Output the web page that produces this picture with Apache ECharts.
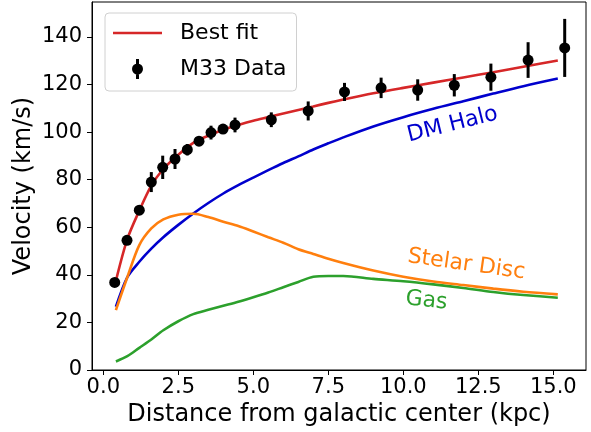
<!DOCTYPE html>
<html>
<head>
<meta charset="utf-8">
<script src="https://cdn.jsdelivr.net/npm/echarts@6/dist/echarts.min.js"></script>
<style>
  html, body { margin: 0; padding: 0; background: #fff; }
  #main { width: 591px; height: 432px; }
</style>
</head>
<body>
<div id="main"></div>
<script>
// M33 rotation curve data
var dataR   = [0.38, 0.79, 1.2, 1.6, 1.98, 2.39, 2.8, 3.19, 3.59, 3.99, 4.39, 5.6, 6.83, 8.04, 9.26, 10.48, 11.7, 12.92, 14.16, 15.38];
var dataV   = [36.8, 54.5, 67.2, 79, 85.2, 88.7, 92.6, 96.2, 99.8, 101.3, 103, 105.2, 108.9, 116.9, 118.6, 117.7, 119.7, 123.1, 130.3, 135.4];
var dataErr = [1, 1, 2, 4.2, 4.9, 4.2, 2.4, 1.8, 2.9, 1.7, 3.1, 3.1, 4, 3.8, 4.3, 4.5, 4.7, 5.7, 7.5, 12.2];

// model curves
var modelR  = [0.42, 0.8, 1.2, 1.6, 2.0, 2.5, 3.0, 3.5, 4.0, 4.5, 5.0, 5.5, 6.0, 6.5, 7.0, 7.5, 8.0, 9.0, 10.0, 11.0, 12.0, 13.0, 14.0, 15.15];
var bestFit = [37.5, 55, 67, 77.5, 84.5, 90.5, 95.5, 98.5, 101, 103, 104.8, 106.3, 107.8, 109.3, 110.8, 112.3, 113.7, 116.3, 118.6, 120.8, 123, 125.2, 127.5, 130.1];
var dmHalo  = [26.6, 39, 45.5, 51, 55.8, 61, 65.8, 70.2, 74.2, 77.7, 80.9, 84, 87, 89.8, 92.7, 95.3, 97.8, 102.4, 106.3, 109.8, 113, 116.2, 119.3, 122.5];
var stellar = [25.2, 39, 52.5, 59.5, 63.3, 65.3, 65.7, 64.3, 62.3, 60.5, 58.2, 55.8, 53.5, 50.8, 48.8, 46.8, 45, 41.8, 39.2, 37.2, 35.7, 34.2, 32.9, 31.8];
var gas     = [3.6, 5.8, 9.3, 12.8, 16.7, 20.5, 23.5, 25.3, 27, 28.7, 30.6, 32.6, 34.8, 37, 39.2, 39.5, 39.5, 38.3, 37.3, 36, 34.5, 32.8, 31.5, 30.4];

var xTicks = [0, 2.5, 5, 7.5, 10, 12.5, 15];
var yTicks = [0, 20, 40, 60, 80, 100, 120, 140];

function pairs(xs, ys) {
  var out = [];
  for (var i = 0; i < xs.length; i++) out.push([xs[i], ys[i]]);
  return out;
}

var errData = [];
for (var i = 0; i < dataR.length; i++) {
  errData.push([dataR[i], dataV[i] - dataErr[i], dataV[i] + dataErr[i]]);
}

var FONT = 'DejaVu Sans';

function curveLabel(text, coord, rot, color) {
  return {
    symbol: 'circle',
    symbolSize: 0,
    silent: true,
    label: {
      show: true, position: 'inside', formatter: text, rotate: rot,
      color: color, fontSize: 22, fontFamily: FONT
    },
    data: [{ coord: coord }]
  };
}

var myChart = echarts.init(document.getElementById('main'));
var option = {
  animation: false,
  backgroundColor: '#fff',
  grid: {
    left: 92, right: 5, top: 2, bottom: 60,
    show: true, borderColor: '#000', borderWidth: 1
  },
  legend: {
    left: 105, top: 13,
    orient: 'vertical',
    padding: [9, 10, 11, 8],
    itemGap: 14,
    itemWidth: 49,
    itemHeight: 20,
    backgroundColor: 'rgba(255,255,255,0.8)',
    borderColor: '#d0d0d0',
    borderWidth: 1,
    borderRadius: 4,
    textStyle: { fontSize: 22, fontFamily: FONT, color: '#000', padding: [0, 0, 0, 13] },
    data: [
      { name: 'Best fit', icon: 'path://M0,0 L49,0 L49,2.6 L0,2.6 Z' },
      { name: 'M33 Data', icon: 'path://M-1.5,-10 L1.5,-10 L1.5,10 L-1.5,10 Z M0,-5.5 A5.5,5.5 0 1 1 0,5.5 A5.5,5.5 0 1 1 0,-5.5 Z' }
    ]
  },
  xAxis: {
    type: 'value',
    min: -0.377, max: 16.09,
    name: 'Distance from galactic center (kpc)',
    nameLocation: 'middle',
    nameGap: 33,
    nameMoveOverlap: false,
    nameTextStyle: { fontSize: 24, fontFamily: FONT, color: '#000' },
    splitLine: { show: false },
    axisLine: { show: true, onZero: false, lineStyle: { color: '#000', width: 1 } },
    axisTick: { show: true, length: 5, lineStyle: { color: '#000' }, customValues: xTicks },
    axisLabel: {
      fontSize: 21, fontFamily: FONT, color: '#000', margin: 7,
      customValues: xTicks,
      formatter: function (v) { return v.toFixed(1); }
    }
  },
  yAxis: {
    type: 'value',
    min: 0, max: 154.7,
    name: 'Velocity (km/s)',
    nameLocation: 'middle',
    nameGap: 56,
    nameMoveOverlap: false,
    nameTextStyle: { fontSize: 24, fontFamily: FONT, color: '#000' },
    splitLine: { show: false },
    axisLine: { show: true, onZero: false, lineStyle: { color: '#000', width: 1 } },
    axisTick: { show: true, length: 5, lineStyle: { color: '#000' }, customValues: yTicks },
    axisLabel: {
      fontSize: 21, fontFamily: FONT, color: '#000', margin: 10,
      customValues: yTicks
    }
  },
  series: [
    {
      name: 'Gas', type: 'line', data: pairs(modelR, gas),
      showSymbol: false, symbol: 'none', smooth: 0.3,
      lineStyle: { color: '#2ca02c', width: 2.6 }, itemStyle: { color: '#2ca02c' },
      markPoint: curveLabel('Gas', [10.77, 29.1], -6, '#2ca02c')
    },
    {
      name: 'DM Halo', type: 'line', data: pairs(modelR, dmHalo),
      showSymbol: false, symbol: 'none', smooth: 0.3,
      lineStyle: { color: '#0000cd', width: 2.6 }, itemStyle: { color: '#0000cd' },
      markPoint: curveLabel('DM Halo', [11.64, 103.1], 14, '#0000cd')
    },
    {
      name: 'Stelar Disc', type: 'line', data: pairs(modelR, stellar),
      showSymbol: false, symbol: 'none', smooth: 0.3,
      lineStyle: { color: '#ff7f0e', width: 2.6 }, itemStyle: { color: '#ff7f0e' },
      markPoint: curveLabel('Stelar Disc', [12.1, 44.3], -8, '#ff7f0e')
    },
    {
      name: 'Best fit', type: 'line', data: pairs(modelR, bestFit),
      showSymbol: false, symbol: 'none', smooth: 0.3, symbolKeepAspect: true,
      lineStyle: { color: '#d62728', width: 2.6 }, itemStyle: { color: '#d62728' }
    },
    {
      name: 'M33 Data err', type: 'custom', data: errData, z: 4,
      renderItem: function (params, api) {
        var lo = api.coord([api.value(0), api.value(1)]);
        var hi = api.coord([api.value(0), api.value(2)]);
        return {
          type: 'line',
          shape: { x1: lo[0], y1: lo[1], x2: hi[0], y2: hi[1] },
          style: { stroke: '#000', lineWidth: 3 }
        };
      }
    },
    {
      name: 'M33 Data', type: 'scatter', data: pairs(dataR, dataV), z: 5,
      symbol: 'circle', symbolSize: 11, symbolKeepAspect: true,
      itemStyle: { color: '#000', opacity: 1 }
    }
  ]
};
myChart.setOption(option);
</script>
</body>
</html>
